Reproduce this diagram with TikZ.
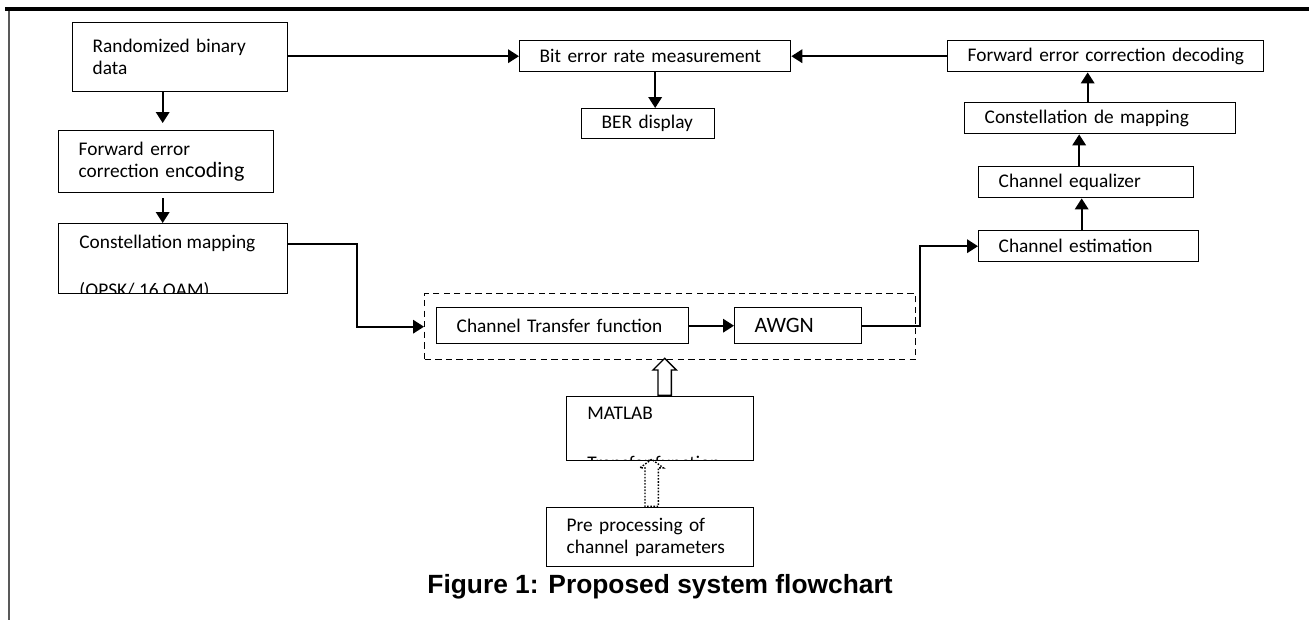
\documentclass[tikz,border=0pt]{standalone}
\usepackage{fontspec}
\setmainfont{Carlito}
\newfontfamily\capfont{Liberation Sans}
\usetikzlibrary{arrows.meta,shapes.arrows,positioning}
\tikzset{
  fl_box/.style = {rectangle, draw=black, line width=0.8pt, anchor=north west,
    align=left, inner xsep=0.4cm, inner ysep=0pt,
    font=\fontsize{11}{12.5}\selectfont},% blok, tekst links
  fl_txt/.style = {inner sep=0pt, minimum width=0pt, minimum height=0pt,
    font=\fontsize{11}{12.5}\selectfont},% losse tekst
  fl_zone/.style = {rectangle, draw=black, line width=0.8pt, anchor=north west,
    dash pattern=on 3.6pt off 2.4pt},% gestippeld kader
  fl_arr/.style = {line width=1.1pt, -{Triangle[length=0.22cm,width=0.27cm]}},% pijl
  fl_big/.style = {single arrow, draw=black, line width=0.8pt, anchor=tail,
    shape border rotate=90, inner sep=0.12cm, minimum width=0.44cm,
    single arrow head extend=0.1cm}% holle pijl
}

\begin{document}
\begin{tikzpicture}[x=0.02cm,y=-0.02cm]
        \useasboundingbox (0,0) rectangle (1309,620);
        \draw [line width=2.3pt] (5,9) -- (1309,9);
        \draw [line width=0.7pt, black!65] (9,11) -- (9,620);

        \node [fl_box, text width=3.5cm, minimum height=1.38cm] (A) at (72,22) {Randomized binary\\data};
        \node [fl_box, text width=3.5cm, minimum height=1.24cm] (B) at (58,130) {Forward error\\correction en{\fontsize{12.5}{13}\selectfont coding}};
        \node [fl_box, minimum width=4.58cm, minimum height=1.40cm,
          path picture={
            \node [fl_txt, anchor=base west] (C1) at ([shift={(0.4cm,0.9cm)}]path picture bounding box.south west) {Constellation mapping};
            \node [fl_txt, anchor=base west] (C2) at ([shift={(0.4cm,-0.06cm)}]path picture bounding box.south west) {(QPSK/ 16 QAM)};
          }] (C) at (58,223) {};
        \node [fl_box, text width=4.62cm, minimum height=0.62cm] (K) at (519,40) {Bit error rate measurement};
        \node [fl_box, text width=1.86cm, minimum height=0.60cm] (L) at (581,108) {BER display};
        \node [fl_box, text width=5.52cm, minimum height=0.62cm] (J) at (947,40) {\mbox{Forward error correction decoding}};
        \node [fl_box, text width=4.62cm, minimum height=0.62cm] (I) at (964,102) {Constellation de mapping};
        \node [fl_box, text width=3.50cm, minimum height=0.62cm] (H) at (978,166) {Channel equalizer};
        \node [fl_box, text width=3.60cm, minimum height=0.62cm] (G) at (978,230) {Channel estimation};
        \node [fl_zone, minimum width=9.82cm, minimum height=1.32cm] (F) at (424,293) {};
        \node [fl_box, text width=4.24cm, minimum height=0.72cm] (D) at (436,307) {Channel Transfer function};
        \node [fl_box, text width=1.74cm, minimum height=0.72cm, font=\fontsize{12.5}{14}\selectfont] (E) at (734,307) {AWGN};
        \node [fl_box, minimum width=3.74cm, minimum height=1.28cm,
          path picture={
            \node [fl_txt, anchor=base west] (M1) at ([shift={(0.4cm,0.82cm)}]path picture bounding box.south west) {MATLAB};
            \node [fl_txt, anchor=base west] (M2) at ([shift={(0.4cm,-0.18cm)}]path picture bounding box.south west) {Transfer function};
          }] (M) at (566,396) {};
        \node [fl_box, text width=3.34cm, minimum height=1.18cm] (N) at (546,507) {Pre processing of\\channel parameters};
        \node [font={\capfont\bfseries\fontsize{15}{17}\selectfont}, anchor=base] (T) at (660,593) {Figure 1: Proposed system flowchart};

        \node [fl_big, minimum height=0.74cm] (P) at ([xshift=0.09cm]M.north) {};
        \node [fl_big, dash pattern=on 0.9pt off 0.9pt, minimum height=0.94cm, single arrow tip angle=108] (Q) at ([xshift=0.03cm]N.north) {};

        \draw [fl_arr, shorten >=0.14cm] ([xshift=-0.35cm]A.south) -- ([xshift=-0.35cm]A.south |- B.north);
        \draw [fl_arr, shorten <=0.1cm] ([xshift=-0.07cm]B.south) -- ([xshift=-0.07cm]B.south |- C.north);
        \draw [fl_arr] (A.east |- K.west) -- (K.west);
        \draw [fl_arr] (J.west) -- (K.east);
        \draw [fl_arr] (K.south) -- (K.south |- L.north);
        \draw [fl_arr] ([yshift=-0.42cm]C.north east) -- ++(1.38cm,0) |- (F.west);
        \draw [fl_arr] (D.east) -- (E.west);
        \draw [fl_arr] (E.east) -- ++(1.16cm,0) |- (G.west);
        \draw [fl_arr] ([xshift=-0.14cm]G.north) -- ([xshift=-0.14cm]G.north |- H.south);
        \draw [fl_arr] ([xshift=-0.14cm]H.north) -- ([xshift=-0.14cm]H.north |- I.south);
        \draw [fl_arr] ([xshift=-0.25cm]I.north) -- ([xshift=-0.25cm]I.north |- J.south);

        \end{tikzpicture}
\end{document}
